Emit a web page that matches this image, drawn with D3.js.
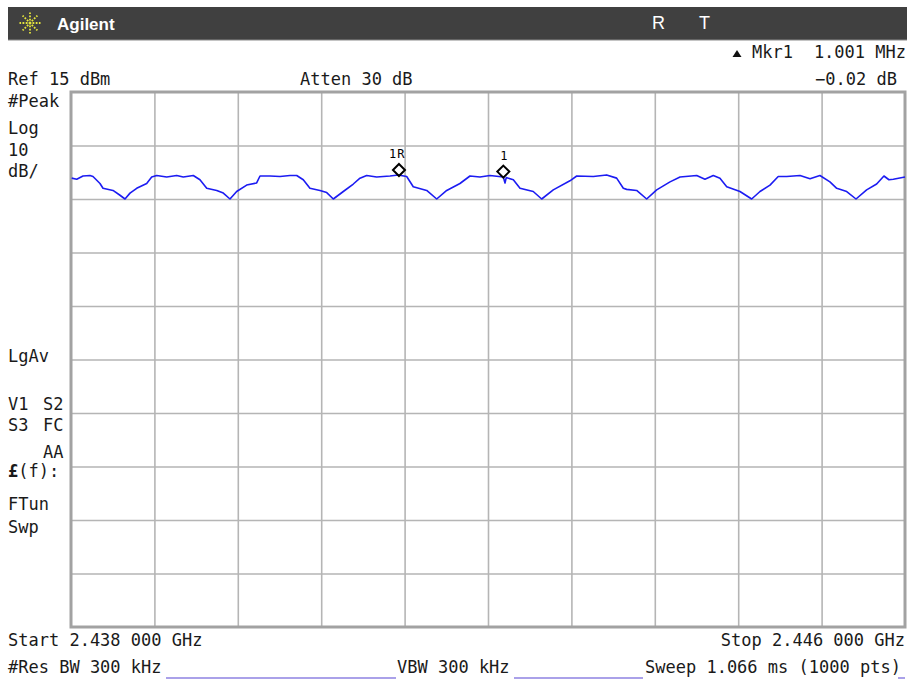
<!DOCTYPE html>
<html>
<head>
<meta charset="utf-8">
<script src="https://cdn.jsdelivr.net/npm/d3@7"></script>
<style>
  body { margin: 0; background: #fff; }
  text { font-family: "DejaVu Sans Mono", monospace; font-size: 17px; fill: #1a1a1a; }
</style>
</head>
<body>
<script>
const width = 907;
const height = 680;

// sweep settings
const startMHz = 2438;
const stopMHz = 2446;
const refLevel = 15;     // dBm, top of the screen
const dbPerDiv = 10;
const divisions = 10;

// trace, offset from start in MHz and level in dBm
const traceOffsetMHz = [
  0.007, 0.055, 0.115, 0.182, 0.211, 0.278, 0.307, 0.403, 0.470, 0.518,
  0.566, 0.630, 0.726, 0.774, 0.822, 0.918, 1.014, 1.077, 1.173, 1.237,
  1.302, 1.398, 1.461, 1.525, 1.589, 1.685, 1.781, 1.813, 1.909, 2.005,
  2.101, 2.165, 2.228, 2.292, 2.388, 2.453, 2.516, 2.612, 2.708, 2.772,
  2.836, 2.932, 3.060, 3.139, 3.220, 3.283, 3.412, 3.508, 3.604, 3.731,
  3.827, 3.923, 4.019, 4.147, 4.163, 4.175, 4.243, 4.307, 4.434, 4.515,
  4.626, 4.786, 4.851, 5.010, 5.138, 5.234, 5.298, 5.330, 5.426, 5.522,
  5.618, 5.746, 5.842, 6.002, 6.081, 6.161, 6.225, 6.290, 6.417, 6.529,
  6.609, 6.705, 6.784, 6.865, 6.993, 7.089, 7.184, 7.280, 7.345, 7.441,
  7.530, 7.632, 7.728, 7.798, 7.846, 7.888, 8.000
];
const traceDbm = [
  -1.1, -1.3, -0.7, -0.6, -0.8, -2.1, -3.0, -3.4, -4.3, -5.0,
  -3.9, -3.0, -2.1, -0.9, -0.6, -0.9, -0.6, -0.9, -0.6, -1.4,
  -3.0, -3.4, -3.9, -5.0, -3.6, -2.4, -2.0, -0.7, -0.7, -0.8,
  -0.6, -0.6, -1.4, -3.0, -3.4, -3.8, -5.0, -3.6, -2.2, -1.1,
  -0.6, -0.9, -0.7, -0.5, -0.8, -2.7, -3.4, -5.0, -3.4, -2.1,
  -0.7, -0.9, -0.6, -0.9, -2.0, -1.0, -1.4, -3.0, -3.6, -5.0,
  -3.3, -1.6, -0.7, -0.8, -0.5, -1.1, -3.0, -3.2, -3.4, -5.0,
  -3.3, -1.8, -0.9, -0.6, -1.3, -0.6, -1.1, -2.7, -3.6, -5.0,
  -3.6, -2.4, -0.8, -0.8, -0.6, -1.2, -0.6, -1.8, -3.0, -3.6,
  -5.0, -3.3, -2.2, -0.7, -1.4, -1.3, -0.9
];

// markers
const markerLabels = ["1R", "1"];
const markerOffsetMHz = [3.146, 4.147];
const markerDbm = [-0.7, -1.0];

// screen annotations
const leftLabels = [
  { t: "#Peak", x: 8, y: 107 }, { t: "Log", x: 8, y: 134 },
  { t: "10", x: 8, y: 156 }, { t: "dB/", x: 8, y: 177 },
  { t: "LgAv", x: 8, y: 362 },
  { t: "V1", x: 8, y: 410 }, { t: "S2", x: 43, y: 410 },
  { t: "S3", x: 8, y: 431 }, { t: "FC", x: 43, y: 431 },
  { t: "AA", x: 43, y: 458 },
  { t: "FTun", x: 8, y: 510 }, { t: "Swp", x: 8, y: 533 }
];

const svg = d3.select("body").append("svg")
  .attr("width", width)
  .attr("height", height);

// title bar
svg.append("rect")
  .attr("x", 8).attr("y", 7)
  .attr("width", width - 8).attr("height", 33)
  .attr("fill", "#404040");
svg.append("line")
  .attr("x1", 8).attr("x2", width).attr("y1", 40).attr("y2", 40)
  .attr("stroke", "#8a8a8a");

const logo = svg.append("g").attr("transform", "translate(30,23)");
logo.selectAll("line")
  .data(d3.range(8))
  .join("line")
  .attr("x1", d => 2.5 * Math.cos(d * Math.PI / 4))
  .attr("y1", d => 2.5 * Math.sin(d * Math.PI / 4))
  .attr("x2", d => 10.5 * Math.cos(d * Math.PI / 4))
  .attr("y2", d => 10.5 * Math.sin(d * Math.PI / 4))
  .attr("stroke", "#e4e43c")
  .attr("stroke-width", 1.8)
  .attr("stroke-dasharray", "1.8,1.4");
logo.append("circle").attr("r", 1.5).attr("fill", "#e4e43c");

svg.append("text")
  .attr("x", 57).attr("y", 30)
  .style("font-family", "'Liberation Sans', Arial, sans-serif")
  .style("font-weight", "bold")
  .style("font-size", "17px")
  .style("fill", "#fff")
  .text("Agilent");

svg.selectAll(".flag")
  .data([{ t: "R", x: 652 }, { t: "T", x: 699 }])
  .join("text")
  .attr("class", "flag")
  .attr("x", d => d.x).attr("y", 29)
  .style("font-family", "'Liberation Sans', Arial, sans-serif")
  .style("font-size", "18px")
  .style("fill", "#fff")
  .text(d => d.t);

// plot area
const plot = { left: 71, right: 905, top: 92, bottom: 627 };

const x = d3.scaleLinear()
  .domain([startMHz, stopMHz])
  .range([plot.left, plot.right]);

const y = d3.scaleLinear()
  .domain([refLevel - dbPerDiv * divisions, refLevel])
  .range([plot.bottom, plot.top]);

const grid = svg.append("g");

grid.append("g")
  .attr("transform", `translate(0,${plot.bottom})`)
  .call(d3.axisBottom(x)
    .tickValues(d3.range(1, divisions).map(i => startMHz + i * (stopMHz - startMHz) / divisions))
    .tickSize(-(plot.bottom - plot.top))
    .tickFormat(""))
  .call(g => g.select(".domain").remove());

grid.append("g")
  .attr("transform", `translate(${plot.left},0)`)
  .call(d3.axisLeft(y)
    .tickValues(d3.range(1, divisions).map(i => refLevel - i * dbPerDiv))
    .tickSize(-(plot.right - plot.left))
    .tickFormat(""))
  .call(g => g.select(".domain").remove());

grid.selectAll(".tick line")
  .attr("stroke", "#b5b5b5")
  .attr("stroke-width", 1.6);

svg.append("rect")
  .attr("x", plot.left).attr("y", plot.top)
  .attr("width", plot.right - plot.left)
  .attr("height", plot.bottom - plot.top)
  .attr("fill", "none")
  .attr("stroke", "#a2a2a2")
  .attr("stroke-width", 3);

// trace
const traceData = traceOffsetMHz.map((f, i) => [startMHz + f, traceDbm[i]]);

svg.append("path")
  .datum(traceData)
  .attr("fill", "none")
  .attr("stroke", "#1c1cf2")
  .attr("stroke-width", 1.6)
  .attr("stroke-linejoin", "round")
  .attr("d", d3.line().x(d => x(d[0])).y(d => y(d[1])));

// markers, diamond sits on top of the trace
const markers = svg.selectAll(".marker")
  .data(markerLabels.map((l, i) => ({ label: l, f: startMHz + markerOffsetMHz[i], v: markerDbm[i] })))
  .join("g")
  .attr("class", "marker")
  .attr("transform", d => `translate(${x(d.f)},${y(d.v) - 6})`);

markers.append("path")
  .attr("d", "M0,-6 L6,0 L0,6 L-6,0 Z")
  .attr("fill", "none")
  .attr("stroke", "#000")
  .attr("stroke-width", 2);

markers.append("text")
  .attr("x", d => d.label.length > 1 ? -10 : -3)
  .attr("y", -12)
  .style("font-size", "12px")
  .style("fill", "#000")
  .style("letter-spacing", "1px")
  .text(d => d.label);

// top readouts
svg.append("text").attr("x", 8).attr("y", 85).text("Ref 15 dBm");
svg.append("text").attr("x", 300).attr("y", 85).text("Atten 30 dB");

svg.append("path")
  .attr("d", "M737,50 L741.5,57 L732.5,57 Z")
  .attr("fill", "#111");
svg.append("text").attr("x", 752).attr("y", 58).text("Mkr1");
svg.append("text").attr("x", 906).attr("y", 58).attr("text-anchor", "end").text("1.001 MHz");
svg.append("text").attr("x", 897).attr("y", 85).attr("text-anchor", "end").text("\u22120.02 dB");

// left column
svg.selectAll(".side")
  .data(leftLabels)
  .join("text")
  .attr("class", "side")
  .attr("x", d => d.x).attr("y", d => d.y)
  .text(d => d.t);

const fLabel = svg.append("text").attr("x", 8).attr("y", 477);
fLabel.append("tspan").style("font-weight", "bold").text("\u00a3");
fLabel.append("tspan").text("(f):");

// bottom readouts
svg.append("text").attr("x", 8).attr("y", 646).text("Start 2.438 000 GHz");
svg.append("text").attr("x", 905).attr("y", 646).attr("text-anchor", "end").text("Stop 2.446 000 GHz");
svg.append("text").attr("x", 8).attr("y", 673).text("#Res BW 300 kHz");
svg.append("text").attr("x", 397).attr("y", 673).text("VBW 300 kHz");
svg.append("text").attr("x", 645).attr("y", 673).text("Sweep 1.066 ms (1000 pts)");

svg.selectAll(".uline")
  .data([[166, 396], [514, 643], [898, 905]])
  .join("line")
  .attr("class", "uline")
  .attr("x1", d => d[0]).attr("x2", d => d[1])
  .attr("y1", 678).attr("y2", 678)
  .attr("stroke", "#8e82e2")
  .attr("stroke-width", 1.5);
</script>
</body>
</html>
